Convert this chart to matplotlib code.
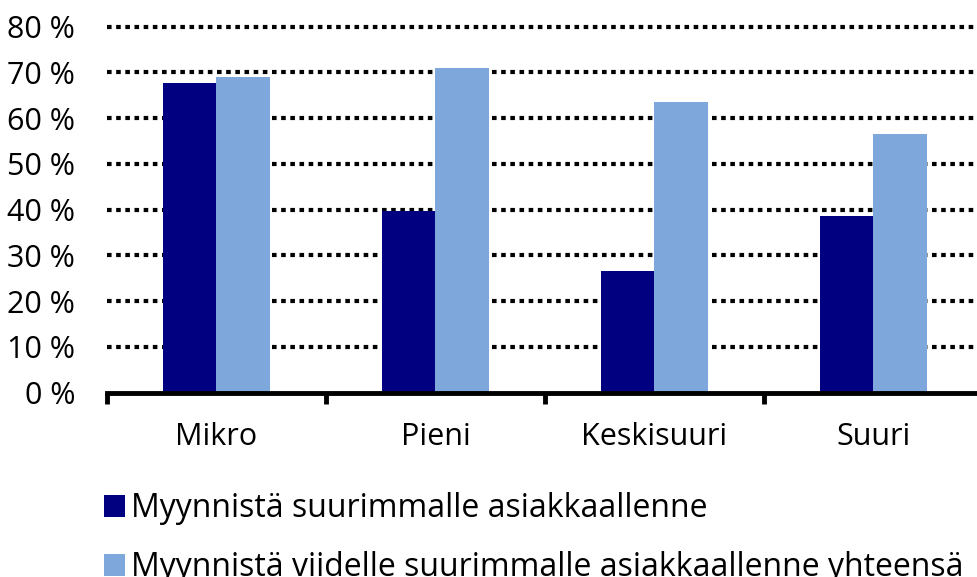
import matplotlib
matplotlib.use("Agg")
import matplotlib.pyplot as plt
from matplotlib.patches import Patch
import numpy as np

plt.rcParams['font.family'] = ['Open Sans', 'DejaVu Sans']

categories = ["Mikro", "Pieni", "Keskisuuri", "Suuri"]
series_names = ["Myynnistä suurimmalle asiakkaallenne",
                "Myynnistä viidelle suurimmalle asiakkaallenne yhteensä"]
top1 = [67.7, 39.7, 26.6, 38.5]
top5 = [69.0, 71.0, 63.6, 56.6]
yticks = [0, 10, 20, 30, 40, 50, 60, 70, 80]
ytick_labels = [f"{v} %" for v in yticks]

colors = ["#000080", "#7EA8DC"]

W, H = 978, 577
fig = plt.figure(figsize=(W / 100, H / 100), dpi=100)
left, right = 107, 983
bottom, top = 392.5, 26.7
ax = fig.add_axes([left / W, 1 - bottom / H, (right - left) / W, (bottom - top) / H])

x = np.arange(len(categories))
bw = 0.245
ax.bar(x - bw / 2, top1, width=bw, color=colors[0], zorder=3)
ax.bar(x + bw / 2, top5, width=bw, color=colors[1], zorder=3)

ax.set_xlim(-0.5, len(categories) - 0.5)
ax.set_ylim(0, 80)
ax.set_yticks(yticks)
ax.set_yticklabels(ytick_labels)
for v in yticks[1:]:
    ax.axhline(v, color="black", lw=3, linestyle=(0, (1.1, 1.1)), zorder=1,
               xmax=0.992, clip_on=False)

ax.set_xticks(x)
ax.set_xticklabels(categories)
ax.set_xticks(np.arange(-0.5, len(categories), 1.0), minor=True)
ax.tick_params(axis='x', which='major', length=0, pad=21, labelsize=22)
ax.tick_params(axis='x', which='minor', length=8, width=3.5, color='black', direction='out')
ax.tick_params(axis='y', length=0, pad=23, labelsize=22)

for s in ["top", "right", "left"]:
    ax.spines[s].set_visible(False)
ax.spines["bottom"].set_linewidth(3.5)
ax.spines["bottom"].set_zorder(4)

handles = [Patch(facecolor=c, edgecolor='none') for c in colors]
fig.legend(handles, series_names, loc="upper left", bbox_to_anchor=(104 / W, 1 - 492 / H),
           frameon=False, fontsize=23, handlelength=0.67, handleheight=0.67,
           handletextpad=0.18, labelspacing=0.82, borderaxespad=0, borderpad=0)

fig.savefig("out.png", dpi=100)
